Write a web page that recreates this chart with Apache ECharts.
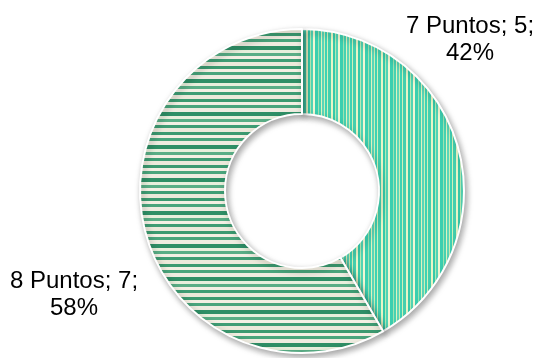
<!DOCTYPE html>
<html><head><meta charset="utf-8">
<script src="https://cdn.jsdelivr.net/npm/echarts@6/dist/echarts.min.js"></script>
<style>html,body{margin:0;padding:0;background:#fff}#c{width:540px;height:358px}</style>
</head><body><div id="c"></div>
<script>
var categories = ['7 Puntos', '8 Puntos'];
var values = [5, 7];

function stripes(vertical, colors, widths) {
  var total = widths.reduce(function (a, b) { return a + b; }, 0);
  var cv = document.createElement('canvas');
  cv.width = vertical ? total : 8;
  cv.height = vertical ? 8 : total;
  var ctx = cv.getContext('2d');
  var p = 0;
  for (var i = 0; i < widths.length; i++) {
    ctx.fillStyle = colors[i];
    if (vertical) ctx.fillRect(p, 0, widths[i], 8); else ctx.fillRect(0, p, 8, widths[i]);
    p += widths[i];
  }
  return cv;
}
var patV = stripes(true,
  ['#3fd2b4','#d3f0b8','#45cfae','#eaf5c6','#37c9aa','#b5e9b4','#52d4b4','#f2f6d2','#3bcfb0','#9ee3b0','#46d2b2','#e0f2bf','#5ad6b8','#cdeeb6'],
  [2,1,3,2,2,1,2,2,3,1,2,1,2,1]);
var patH = stripes(false,
  ['#3c9a70','#f3efe2','#4aa57c','#efece0','#2f8f66','#e8efdc','#5aae86','#f4f0e4','#3f9d74','#ece9da'],
  [3,3,3,4,4,3,3,3,3,4]);

var chart = echarts.init(document.getElementById('c'));
var labelPos = [[470, 40], [74, 295]];
chart.setOption({
  animation: false,
  series: [{
    type: 'pie',
    center: [302, 191],
    radius: [77, 162],
    startAngle: 90,
    clockwise: true,
    data: categories.map(function (n, i) {
      return {
        name: n, value: values[i],
        itemStyle: { color: { image: i === 0 ? patV : patH, repeat: 'repeat' } }
      };
    }),
    itemStyle: {
      borderColor: '#ffffff', borderWidth: 2,
      shadowBlur: 6, shadowOffsetX: 2, shadowOffsetY: 3, shadowColor: 'rgba(0,0,0,0.35)'
    },
    label: {
      show: true, position: 'outside',
      formatter: '{b}; {c};\n{d}%',
      fontFamily: 'Liberation Sans, Arial, sans-serif',
      fontSize: 24, color: '#000', lineHeight: 27, align: 'center',
      overflow: 'none', width: 250
    },
    percentPrecision: 0,
    labelLine: { show: false },
    labelLayout: function (p) {
      return { x: labelPos[p.dataIndex][0], y: labelPos[p.dataIndex][1], align: 'center', verticalAlign: 'middle' };
    },
    emphasis: { disabled: true }
  }]
});
</script></body></html>
